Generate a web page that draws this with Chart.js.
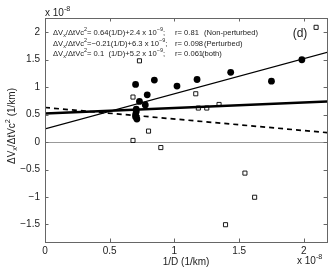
<!DOCTYPE html>
<html>
<head>
<meta charset="utf-8">
<script src="https://cdn.jsdelivr.net/npm/chart.js@4"></script>
<style>
  body { margin: 0; background: #fff; }
  #wrap { width: 332px; height: 269px; position: relative; }
</style>
</head>
<body>
<div id="wrap"><canvas id="chart"></canvas></div>
<script>
// values in units of 1e-8
const nonPertX = [0.70, 0.79, 0.845, 1.02, 1.175, 1.435, 1.75, 1.985, 0.73, 0.775, 0.705, 0.705, 0.70, 0.70, 0.71];
const nonPertY = [1.05, 0.86, 1.13, 1.02, 1.14, 1.27, 1.11, 1.50, 0.74, 0.675, 0.60, 0.555, 0.50, 0.46, 0.42];
const pertX = [0.73, 2.095, 0.68, 1.165, 1.185, 1.25, 1.345, 0.80, 0.68, 0.895, 1.545, 1.62, 1.395];
const pertY = [1.48, 2.09, 0.82, 0.88, 0.62, 0.62, 0.685, 0.20, 0.03, -0.10, -0.565, -1.005, -1.505];
const fitX = [0, 2.2];
const fitNonPertY = [0.24, 1.648];
const fitPertY = [0.63, 0.168];
const fitBothY = [0.52, 0.74];
const xTicks = [0, 0.5, 1, 1.5, 2];
const yTicks = [-1.5, -1, -0.5, 0, 0.5, 1, 1.5, 2];

const FONT = '"Liberation Sans", Arial, sans-serif';
const TXT = '#222';

function pts(xs, ys) { return xs.map((x, i) => ({ x: x, y: ys[i] })); }

function rich(ctx, x, y, parts, size) {
    let cx = x;
    parts.forEach(p => {
        let s = size, dy = 0;
        if (p[1] === 'sub') { s = size * 0.72; dy = size * 0.3; }
        if (p[1] === 'sup') { s = size * 0.72; dy = -size * 0.42; }
        ctx.font = s + 'px ' + FONT;
        ctx.fillText(p[0], cx, y + dy);
        cx += ctx.measureText(p[0]).width;
    });
    return cx;
}

const frame = {
    id: 'frame',
    beforeDatasetsDraw(chart) {
        const ctx = chart.ctx, a = chart.chartArea;
        const ys = chart.scales.y;
        ctx.save();
        ctx.strokeStyle = '#999';
        ctx.lineWidth = 1;
        const y0 = Math.round(ys.getPixelForValue(0)) + 0.5;
        ctx.beginPath(); ctx.moveTo(a.left, y0); ctx.lineTo(a.right, y0); ctx.stroke();
        ctx.restore();
    },
    afterDraw(chart) {
        const ctx = chart.ctx, a = chart.chartArea;
        const xs = chart.scales.x, ys = chart.scales.y;
        ctx.save();
        ctx.strokeStyle = '#666';
        ctx.lineWidth = 1;
        ctx.strokeRect(Math.round(a.left) + 0.5, Math.round(a.top) + 0.5,
            Math.round(a.right - a.left), Math.round(a.bottom - a.top));
        ctx.beginPath();
        xTicks.forEach(v => {
            const px = Math.round(xs.getPixelForValue(v)) + 0.5;
            ctx.moveTo(px, a.bottom); ctx.lineTo(px, a.bottom - 3.5);
            ctx.moveTo(px, a.top); ctx.lineTo(px, a.top + 3.5);
        });
        yTicks.forEach(v => {
            const py = Math.round(ys.getPixelForValue(v)) + 0.5;
            ctx.moveTo(a.left, py); ctx.lineTo(a.left + 3.5, py);
            ctx.moveTo(a.right, py); ctx.lineTo(a.right - 3.5, py);
        });
        ctx.stroke();

        ctx.fillStyle = TXT;
        ctx.textBaseline = 'middle';
        ctx.textAlign = 'left';
        // multipliers
        rich(ctx, 45, 13, [['x 10', 'n'], ['-8', 'sup']], 10);
        rich(ctx, 297, 261, [['x 10', 'n'], ['-8', 'sup']], 10);
        // x title
        ctx.textAlign = 'center';
        ctx.font = '10px ' + FONT;
        ctx.fillText('1/D (1/km)', (a.left + a.right) / 2, 262);
        // (d)
        ctx.font = '12px ' + FONT;
        ctx.fillText('(d)', 300, 34);
        ctx.textAlign = 'left';
        // y title
        ctx.save();
        ctx.translate(12, 126);
        ctx.rotate(-Math.PI / 2);
        const parts = [['ΔV', 'n'], ['x', 'sub'], ['/ΔtVc', 'n'], ['2', 'sup'], [' (1/km)', 'n']];
        let w = 0;
        parts.forEach(p => {
            ctx.font = (p[1] === 'n' ? 10 : 7.2) + 'px ' + FONT;
            w += ctx.measureText(p[0]).width;
        });
        rich(ctx, -w / 2, 0, parts, 10);
        ctx.restore();
        // equations
        const fs = 7.6;
        const head = [['ΔV', 'n'], ['x', 'sub'], ['/ΔtVc', 'n'], ['2', 'sup']];
        const eqs = [
            ['= 0.64(1/D)+2.4 x 10', 'r= 0.81', '(Non-perturbed)', 33],
            ['=\u22120.21(1/D)+6.3 x 10', 'r= 0.098', '(Perturbed)', 44],
            ['= 0.1  (1/D)+5.2 x 10', 'r= 0.061', '(both)', 54]
        ];
        eqs.forEach(e => {
            rich(ctx, 53, e[3], head.concat([[e[0], 'n'], ['\u22129', 'sup'], [';', 'n']]), fs);
            ctx.font = fs + 'px ' + FONT;
            ctx.fillText(e[1], 175, e[3]);
            ctx.fillText(e[2], e[2] === '(both)' ? 202 : 204, e[3]);
        });
        ctx.restore();
    }
};

const data = {
    datasets: [
        {
            type: 'line', label: 'fit non-perturbed', data: pts(fitX, fitNonPertY),
            borderColor: '#000', borderWidth: 1.2, pointRadius: 0, fill: false
        },
        {
            type: 'line', label: 'fit perturbed', data: pts(fitX, fitPertY),
            borderColor: '#000', borderWidth: 1.7, borderDash: [5, 4], pointRadius: 0, fill: false
        },
        {
            type: 'line', label: 'fit both', data: pts(fitX, fitBothY),
            borderColor: '#000', borderWidth: 2.4, pointRadius: 0, fill: false
        },
        {
            label: 'Perturbed', data: pts(pertX, pertY),
            pointStyle: 'rect', pointRadius: 2.9, backgroundColor: '#fff',
            borderColor: '#000', borderWidth: 0.9
        },
        {
            label: 'Non-perturbed', data: pts(nonPertX, nonPertY),
            pointStyle: 'circle', pointRadius: 3.4, backgroundColor: '#000',
            borderColor: '#000', borderWidth: 0
        }
    ]
};

const tickText = v => String(v).replace('-', '\u2212');

const config = {
    type: 'scatter',
    data: data,
    options: {
        responsive: true,
        maintainAspectRatio: false,
        animation: false,
        layout: { padding: { top: 18, right: 4, left: 0, bottom: 0 } },
        plugins: { legend: { display: false }, tooltip: { enabled: false } },
        scales: {
            x: {
                type: 'linear', min: 0, max: 2.18,
                grid: { display: false, drawTicks: false },
                border: { display: false },
                afterBuildTicks: s => { s.ticks = xTicks.map(v => ({ value: v })); },
                afterFit: s => { s.height = 27; },
                ticks: { color: TXT, padding: 3, maxRotation: 0, font: { family: FONT, size: 10 }, callback: tickText }
            },
            y: {
                type: 'linear', min: -1.82, max: 2.26,
                grid: { display: false, drawTicks: false },
                border: { display: false },
                afterBuildTicks: s => { s.ticks = yTicks.map(v => ({ value: v })); },
                afterFit: s => { s.width = 45; },
                ticks: { color: TXT, padding: 5, font: { family: FONT, size: 10 }, callback: tickText }
            }
        }
    },
    plugins: [frame]
};

const myChart = new Chart(document.getElementById('chart'), config);
</script>
</body>
</html>
